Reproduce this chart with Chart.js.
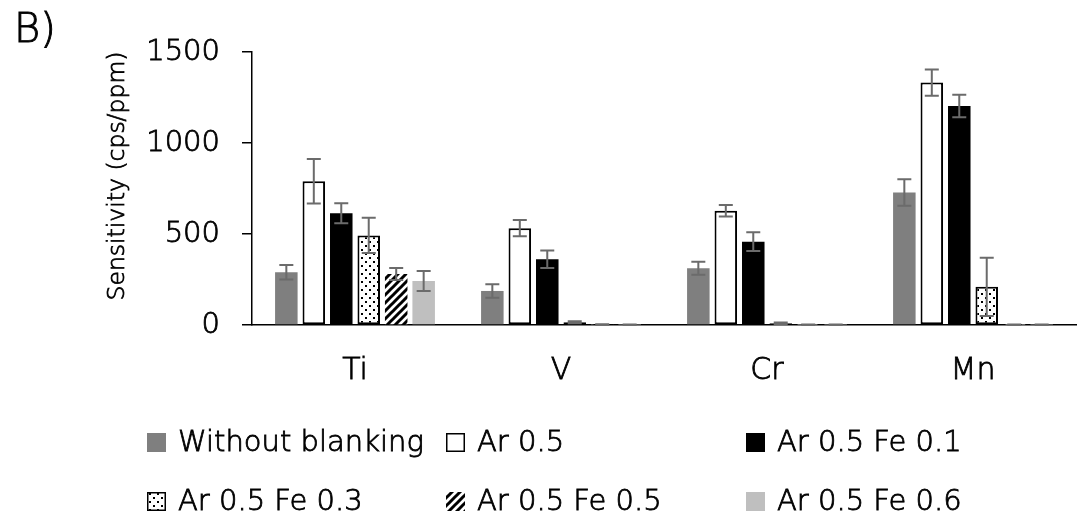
<!DOCTYPE html>
<html>
<head>
<meta charset="utf-8">
<script src="https://cdn.jsdelivr.net/npm/chart.js@4.4.1/dist/chart.umd.min.js"></script>
<style>
  html, body { margin: 0; padding: 0; background: #fff; }
  .wrap { position: relative; width: 1078px; height: 519px; }
  .panel { position: absolute; left: 14px; top: 5px; font: 200 40px "DejaVu Sans"; color: #000; -webkit-text-stroke: 0.9px #000; }
</style>
</head>
<body>
<div class="wrap">
  <canvas class="js-sensitivity" width="1078" height="519"></canvas>
  <div class="panel">B)</div>
</div>
<script>
const elements = ["Ti", "V", "Cr", "Mn"];
const yTicks = [0, 500, 1000, 1500];
const seriesNames = ["Without blanking", "Ar 0.5", "Ar 0.5 Fe 0.1", "Ar 0.5 Fe 0.3", "Ar 0.5 Fe 0.5", "Ar 0.5 Fe 0.6"];
const yTitle = "Sensitivity (cps/ppm)";

// sensitivity (cps/ppm) and its error per element
const withoutBlanking = [290, 187, 312, 728];
const withoutBlankingErr = [40, 37, 36, 73];
const ar05 = [790, 532, 628, 1332];
const ar05Err = [122, 45, 32, 72];
const ar05Fe01 = [614, 361, 458, 1203];
const ar05Fe01Err = [55, 48, 52, 62];
const ar05Fe03 = [492, 15, 10, 210];
const ar05Fe03Err = [97, 6, 4, 160];
const ar05Fe05 = [280, 3, 2, 2];
const ar05Fe05Err = [33, 1, 1, 1];
const ar05Fe06 = [242, 2, 2, 2];
const ar05Fe06Err = [55, 1, 1, 1];

const FONT = '"DejaVu Sans"';
const STROKE = 0.8;

const makeTile = function (draw) {
  const c = document.createElement("canvas");
  c.width = 8;
  c.height = 8;
  const ctx = c.getContext("2d");
  ctx.fillStyle = "#fff";
  ctx.fillRect(0, 0, 8, 8);
  draw(ctx);
  return ctx.createPattern(c, "repeat");
};

const dots = makeTile(function (ctx) {
  ctx.fillStyle = "#000";
  ctx.fillRect(1, 1, 2, 2);
  ctx.fillRect(5, 5, 2, 2);
});

const hatch = makeTile(function (ctx) {
  ctx.strokeStyle = "#000";
  ctx.lineWidth = 3;
  ctx.beginPath();
  ctx.moveTo(-2, 10); ctx.lineTo(10, -2);
  ctx.moveTo(-6, 6); ctx.lineTo(6, -6);
  ctx.moveTo(2, 14); ctx.lineTo(14, 2);
  ctx.stroke();
});

const styles = [
  { fill: "#7f7f7f", border: "#7f7f7f", width: 0 },
  { fill: "#ffffff", border: "#000000", width: 2 },
  { fill: "#000000", border: "#000000", width: 0 },
  { fill: dots, border: "#000000", width: 2 },
  { fill: hatch, border: "#000000", width: 0 },
  { fill: "#bfbfbf", border: "#bfbfbf", width: 0 },
];

const values = [withoutBlanking, ar05, ar05Fe01, ar05Fe03, ar05Fe05, ar05Fe06];
const errors = [withoutBlankingErr, ar05Err, ar05Fe01Err, ar05Fe03Err, ar05Fe05Err, ar05Fe06Err];

const strokeText = function (ctx, text, x, y) {
  ctx.strokeText(text, x, y);
  ctx.fillText(text, x, y);
};

// vertical error bars with caps
const errorBars = {
  id: "errorBars",
  afterDatasetsDraw(chart) {
    const ctx = chart.ctx;
    const y = chart.scales.y;
    chart.data.datasets.forEach(function (ds, i) {
      chart.getDatasetMeta(i).data.forEach(function (bar, j) {
        const top = y.getPixelForValue(ds.data[j] + ds.errors[j]);
        const bottom = y.getPixelForValue(Math.max(0, ds.data[j] - ds.errors[j]));
        ctx.save();
        ctx.strokeStyle = "#6b6b6b";
        ctx.lineWidth = 2;
        ctx.beginPath();
        ctx.moveTo(bar.x, top); ctx.lineTo(bar.x, bottom);
        ctx.moveTo(bar.x - 7, top); ctx.lineTo(bar.x + 7, top);
        ctx.moveTo(bar.x - 7, bottom); ctx.lineTo(bar.x + 7, bottom);
        ctx.stroke();
        ctx.restore();
      });
    });
  },
};

// y axis title, set a little above the middle of the axis
const axisTitle = {
  id: "axisTitle",
  afterDraw(chart) {
    const ctx = chart.ctx;
    ctx.save();
    ctx.translate(118, 176);
    ctx.rotate(-Math.PI / 2);
    ctx.font = "200 23.5px " + FONT;
    ctx.textAlign = "center";
    ctx.textBaseline = "middle";
    ctx.fillStyle = "#000";
    ctx.strokeStyle = "#000";
    ctx.lineWidth = STROKE;
    strokeText(ctx, yTitle, 0, 0);
    ctx.restore();
  },
};

// two-row legend in three columns under the axis
const gridLegend = {
  id: "gridLegend",
  afterDraw(chart) {
    const ctx = chart.ctx;
    const cols = [147, 446, 746];
    const rows = [442, 501];
    ctx.save();
    ctx.font = "200 29px " + FONT;
    ctx.textBaseline = "middle";
    chart.data.datasets.forEach(function (ds, i) {
      const x = cols[i % 3];
      const y = rows[Math.floor(i / 3)];
      ctx.fillStyle = ds.backgroundColor;
      ctx.fillRect(x, y - 9, 19, 19);
      if (ds.borderWidth) {
        ctx.strokeStyle = ds.borderColor;
        ctx.lineWidth = 1.5;
        ctx.strokeRect(x + 0.75, y - 8.25, 17.5, 17.5);
      }
      ctx.fillStyle = "#000";
      ctx.strokeStyle = "#000";
      ctx.lineWidth = STROKE;
      strokeText(ctx, ds.label, x + 31, y + 1);
    });
    ctx.restore();
  },
};

const chartSensitivity = function () {
  const canvas = document.querySelector(".js-sensitivity");

  new Chart(canvas, {
    type: "bar",
    data: {
      labels: elements,
      datasets: seriesNames.map(function (name, i) {
        return {
          label: name,
          data: values[i],
          errors: errors[i],
          backgroundColor: styles[i].fill,
          borderColor: styles[i].border,
          borderWidth: styles[i].width,
          borderSkipped: false,
          categoryPercentage: 0.8,
          barPercentage: 0.82,
        };
      }),
    },
    options: {
      responsive: false,
      animation: false,
      layout: {
        padding: { top: 52, right: 2, bottom: 114, left: 0 },
      },
      scales: {
        y: {
          min: 0,
          max: 1500,
          afterBuildTicks: function (scale) {
            scale.ticks = yTicks.map(function (v) { return { value: v }; });
          },
          afterFit: function (scale) {
            scale.width = 252;
          },
          ticks: {
            color: "#000",
            padding: 22,
            textStrokeColor: "#000",
            textStrokeWidth: STROKE,
            callback: function (value) {
              return String(value);
            },
            font: { family: FONT, size: 29, weight: 200 },
          },
          grid: {
            display: true,
            drawOnChartArea: false,
            drawTicks: true,
            tickLength: 10,
            color: "#000",
            lineWidth: 1.5,
          },
          border: { display: true, color: "#000", width: 1.5 },
        },
        x: {
          afterFit: function (scale) {
            scale.height = 80;
          },
          ticks: {
            color: "#000",
            padding: 20,
            textStrokeColor: "#000",
            textStrokeWidth: STROKE,
            font: { family: FONT, size: 30, weight: 200 },
          },
          grid: { display: false },
          border: { display: true, color: "#000", width: 1.5 },
        },
      },
      plugins: {
        legend: { display: false },
        tooltip: { enabled: false },
      },
    },
    plugins: [errorBars, axisTitle, gridLegend],
  });
};

const init = function () {
  chartSensitivity();
};

document.addEventListener("DOMContentLoaded", init);
</script>
</body>
</html>
